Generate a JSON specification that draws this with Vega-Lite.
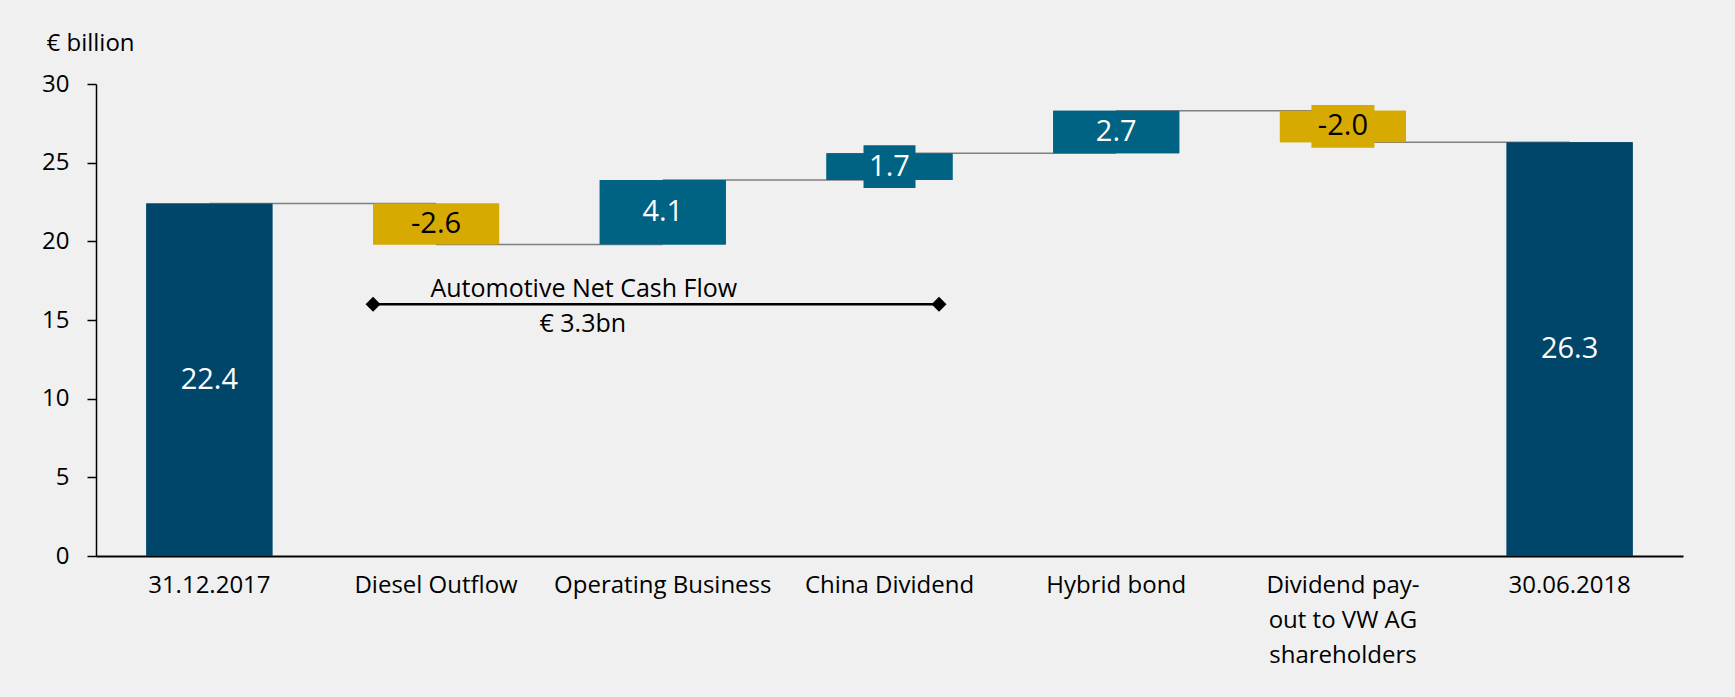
{
  "$schema": "https://vega.github.io/schema/vega-lite/v6.json",
  "width": 1587,
  "height": 472,
  "autosize": {"type": "none"},
  "padding": {"left": 96, "top": 84, "right": 52, "bottom": 141},
  "background": "#F0F0F0",
  "config": {"view": {"stroke": null}, "font": "Open Sans", "text": {"font": "Open Sans"}},
  "datasets": {
    "flows": [
      {"step": "31.12.2017", "start": 0, "end": 22.4, "label": "22.4", "type": "total"},
      {"step": "Diesel Outflow", "start": 22.4, "end": 19.8, "label": "-2.6", "type": "decrease"},
      {"step": "Operating Business", "start": 19.8, "end": 23.9, "label": "4.1", "type": "increase"},
      {"step": "China Dividend", "start": 23.9, "end": 25.6, "label": "1.7", "type": "increase"},
      {"step": "Hybrid bond", "start": 25.6, "end": 28.3, "label": "2.7", "type": "increase"},
      {"step": "Dividend pay-out to VW AG shareholders", "start": 28.3, "end": 26.3, "label": "-2.0", "type": "decrease"},
      {"step": "30.06.2018", "start": 0, "end": 26.3, "label": "26.3", "type": "total"}
    ],
    "connectors": [
      {"from": "31.12.2017", "to": "Diesel Outflow", "level": 22.4},
      {"from": "Diesel Outflow", "to": "Operating Business", "level": 19.8},
      {"from": "Operating Business", "to": "China Dividend", "level": 23.9},
      {"from": "China Dividend", "to": "Hybrid bond", "level": 25.6},
      {"from": "Hybrid bond", "to": "Dividend pay-out to VW AG shareholders", "level": 28.3},
      {"from": "Dividend pay-out to VW AG shareholders", "to": "30.06.2018", "level": 26.3}
    ],
    "bracket": [
      {"from": "Diesel Outflow", "to": "China Dividend", "level": 16, "text": "Automotive Net Cash Flow", "amount": "€ 3.3bn", "textAt": "Operating Business"}
    ]
  },
  "layer": [
    {
      "data": {"name": "flows"},
      "mark": {"type": "bar"},
      "encoding": {
        "x": {
          "field": "step",
          "type": "nominal",
          "sort": null,
          "scale": {
            "domain": ["31.12.2017", "Diesel Outflow", "Operating Business", "China Dividend", "Hybrid bond", "Dividend pay-out to VW AG shareholders", "30.06.2018"],
            "paddingInner": 0.444,
            "paddingOuter": 0.222
          },
          "axis": {
            "title": null,
            "labelAngle": 0,
            "ticks": false,
            "domainColor": "black",
            "domainWidth": 2,
            "labelFontSize": 24,
            "labelColor": "black",
            "labelPadding": 17,
            "labelBaseline": "top",
            "labelLineHeight": 35,
            "labelLimit": 0,
            "labelOverlap": false,
            "labelExpr": "datum.value == 'Dividend pay-out to VW AG shareholders' ? ['Dividend pay-', 'out to VW AG', 'shareholders'] : datum.label"
          }
        },
        "y": {
          "field": "start",
          "type": "quantitative",
          "title": "€ billion",
          "scale": {"domain": [0, 30], "nice": false},
          "axis": {
            "title": "€ billion",
            "titleAngle": 0,
            "titleX": -50,
            "titleY": -34,
            "titleAlign": "left",
            "titleBaseline": "alphabetic",
            "titleFontSize": 24,
            "titleFontWeight": "normal",
            "titleColor": "black",
            "values": [0, 5, 10, 15, 20, 25, 30],
            "grid": false,
            "domainColor": "black",
            "domainWidth": 1.5,
            "tickColor": "black",
            "tickWidth": 1.5,
            "tickSize": 9,
            "labelFontSize": 24,
            "labelColor": "black",
            "labelPadding": 18
          }
        },
        "y2": {"field": "end"},
        "color": {
          "field": "type",
          "type": "nominal",
          "legend": null,
          "scale": {"domain": ["total", "increase", "decrease"], "range": ["#00466A", "#006384", "#D6AA00"]}
        }
      }
    },
    {
      "data": {"name": "connectors"},
      "mark": {"type": "rule", "color": "#7F7F7F", "strokeWidth": 1.5},
      "encoding": {
        "x": {"field": "from", "type": "nominal"},
        "x2": {"field": "to"},
        "y": {"field": "level", "type": "quantitative"}
      }
    },
    {
      "data": {"name": "flows"},
      "mark": {"type": "bar"},
      "encoding": {
        "x": {"field": "step", "type": "nominal"},
        "y": {"field": "start", "type": "quantitative"},
        "y2": {"field": "end"},
        "color": {"field": "type", "type": "nominal", "legend": null}
      }
    },
    {
      "data": {"name": "flows"},
      "transform": [
        {"filter": "datum.step == 'China Dividend' || datum.step == 'Dividend pay-out to VW AG shareholders'"},
        {"fold": ["start", "end"], "as": ["k", "v"]},
        {"aggregate": [{"op": "mean", "field": "v", "as": "mid"}], "groupby": ["step", "type"]}
      ],
      "mark": {"type": "point", "filled": true, "opacity": 1, "strokeWidth": 0, "size": 3969},
      "encoding": {
        "x": {"field": "step", "type": "nominal"},
        "y": {"field": "mid", "type": "quantitative"},
        "shape": {
          "field": "step",
          "type": "nominal",
          "legend": null,
          "scale": {
            "domain": ["China Dividend", "Dividend pay-out to VW AG shareholders"],
            "range": ["M-0.825,-0.678L0.825,-0.678L0.825,0.678L-0.825,0.678Z", "M-1,-0.678L1,-0.678L1,0.678L-1,0.678Z"]
          }
        },
        "color": {"field": "type", "type": "nominal", "legend": null}
      }
    },
    {
      "data": {"name": "flows"},
      "transform": [
        {"fold": ["start", "end"], "as": ["k", "v"]},
        {"aggregate": [{"op": "mean", "field": "v", "as": "mid"}], "groupby": ["step", "type", "label"]}
      ],
      "mark": {"type": "text", "fontSize": 29, "baseline": "middle", "align": "center"},
      "encoding": {
        "x": {"field": "step", "type": "nominal"},
        "y": {"field": "mid", "type": "quantitative"},
        "text": {"field": "label"},
        "color": {"condition": {"test": "datum.type == 'decrease'", "value": "black"}, "value": "white"}
      }
    },
    {
      "data": {"name": "bracket"},
      "mark": {"type": "rule", "color": "black", "strokeWidth": 2.5, "xOffset": -63, "x2Offset": 49.5},
      "encoding": {
        "x": {"field": "from", "type": "nominal"},
        "x2": {"field": "to"},
        "y": {"field": "level", "type": "quantitative"}
      }
    },
    {
      "data": {"name": "bracket"},
      "mark": {"type": "point", "shape": "diamond", "filled": true, "color": "black", "opacity": 1, "size": 225, "strokeWidth": 0, "xOffset": -63},
      "encoding": {
        "x": {"field": "from", "type": "nominal"},
        "y": {"field": "level", "type": "quantitative"}
      }
    },
    {
      "data": {"name": "bracket"},
      "mark": {"type": "point", "shape": "diamond", "filled": true, "color": "black", "opacity": 1, "size": 225, "strokeWidth": 0, "xOffset": 49.5},
      "encoding": {
        "x": {"field": "to", "type": "nominal"},
        "y": {"field": "level", "type": "quantitative"}
      }
    },
    {
      "data": {"name": "bracket"},
      "mark": {"type": "text", "fontSize": 25, "color": "black", "align": "center", "baseline": "alphabetic", "dx": -79, "dy": -7.6},
      "encoding": {
        "x": {"field": "textAt", "type": "nominal"},
        "y": {"field": "level", "type": "quantitative"},
        "text": {"field": "text"}
      }
    },
    {
      "data": {"name": "bracket"},
      "mark": {"type": "text", "fontSize": 25, "color": "black", "align": "center", "baseline": "alphabetic", "dx": -80, "dy": 27.7},
      "encoding": {
        "x": {"field": "textAt", "type": "nominal"},
        "y": {"field": "level", "type": "quantitative"},
        "text": {"field": "amount"}
      }
    }
  ]
}
